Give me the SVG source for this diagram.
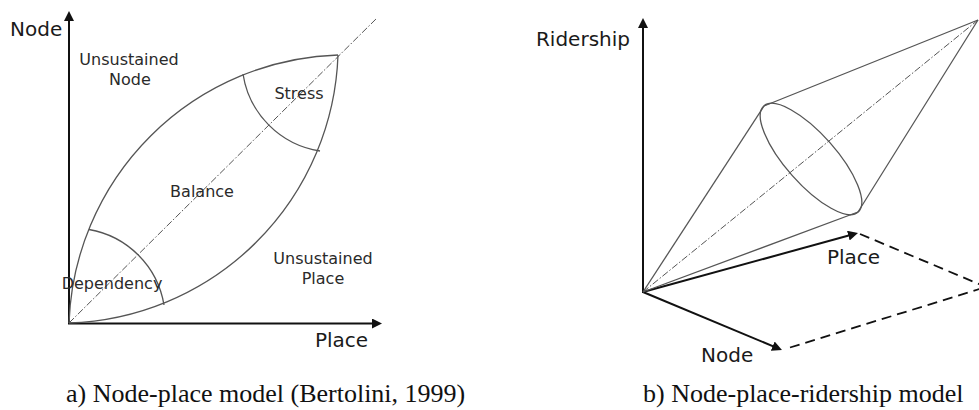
<svg xmlns="http://www.w3.org/2000/svg" width="979" height="410" viewBox="0 0 979 410">
<style>
  .axis { stroke: #111; stroke-width: 2; fill: none; }
  .curve { stroke: #555; stroke-width: 1.3; fill: none; }
  .diag { stroke: #555; stroke-width: 1; fill: none; stroke-dasharray: 7 2 1.5 2; }
  .dash { stroke: #111; stroke-width: 1.8; fill: none; stroke-dasharray: 10 6; }
  .lbl { font-family: "DejaVu Sans", Verdana, sans-serif; fill: #1a1a1a; }
  .ax { font-size: 20px; }
  .rg { font-size: 16px; fill: #2a2a2a; text-anchor: middle; }
  .cap { font-family: "Liberation Serif", "Times New Roman", serif; font-size: 26px; fill: #111; }
</style>
<defs>
  <marker id="ah" viewBox="0 0 10 10" refX="7" refY="5" markerWidth="10" markerHeight="10" markerUnits="userSpaceOnUse" orient="auto">
    <path d="M0,0 L10,5 L0,10 z" fill="#111"/>
  </marker>
</defs>
<rect width="979" height="410" fill="#fff"/>

<g id="panel-a">
  <g id="a-connectors">
    <line class="axis" x1="69" y1="324" x2="69" y2="14" marker-end="url(#ah)"/>
    <line class="axis" x1="68" y1="323.5" x2="379" y2="323.5" marker-end="url(#ah)"/>
    <line class="diag" x1="69" y1="323" x2="377" y2="18"/>
    <path class="curve" d="M69,323 A278,278 0 0 1 338,55"/>
    <path class="curve" d="M69,323 A278,278 0 0 0 338,55"/>
    <path class="curve" d="M89,229.5 A92,92 0 0 1 164,305"/>
    <path class="curve" d="M243,74 A92,92 0 0 0 320,151"/>
  </g>
  <g id="a-node-axis"><text class="lbl ax" x="10" y="36">Node</text></g>
  <g id="a-place-axis"><text class="lbl ax" x="315" y="347">Place</text></g>
  <g id="a-unsustained-node"><text class="lbl rg" x="129" y="65">Unsustained</text><text class="lbl rg" x="130" y="85">Node</text></g>
  <g id="a-stress"><text class="lbl rg" x="299" y="99">Stress</text></g>
  <g id="a-balance"><text class="lbl rg" x="202" y="197">Balance</text></g>
  <g id="a-dependency"><text class="lbl rg" x="112" y="289">Dependency</text></g>
  <g id="a-unsustained-place"><text class="lbl rg" x="323" y="264">Unsustained</text><text class="lbl rg" x="323" y="284">Place</text></g>
  <text class="cap" x="66" y="402">a) Node-place model (Bertolini, 1999)</text>
</g>

<g id="panel-b">
  <g id="b-connectors">
    <line class="axis" x1="643" y1="293" x2="643" y2="21" marker-end="url(#ah)"/>
    <line class="axis" x1="643" y1="292" x2="855.1" y2="233.8" marker-end="url(#ah)"/>
    <line class="axis" x1="643" y1="292" x2="779.2" y2="348.8" marker-end="url(#ah)"/>
    <line class="dash" x1="860" y1="234" x2="986" y2="287"/>
    <line class="dash" x1="790" y1="347.5" x2="986" y2="287"/>
    <line class="diag" x1="643" y1="292" x2="978" y2="20"/>
    <line class="curve" x1="643" y1="292" x2="764" y2="106"/>
    <line class="curve" x1="643" y1="292" x2="858" y2="212"/>
    <line class="curve" x1="764" y1="106" x2="978" y2="20"/>
    <line class="curve" x1="858" y1="212" x2="978" y2="20"/>
    <ellipse class="curve" cx="811" cy="159" rx="71" ry="25" transform="rotate(48.4 811 159)"/>
  </g>
  <g id="b-ridership-axis"><text class="lbl ax" x="630" y="46" text-anchor="end">Ridership</text></g>
  <g id="b-place-axis"><text class="lbl ax" x="827" y="264">Place</text></g>
  <g id="b-node-axis"><text class="lbl ax" x="701" y="362">Node</text></g>
  <text class="cap" x="643" y="402">b) Node-place-ridership model</text>
</g>
</svg>
